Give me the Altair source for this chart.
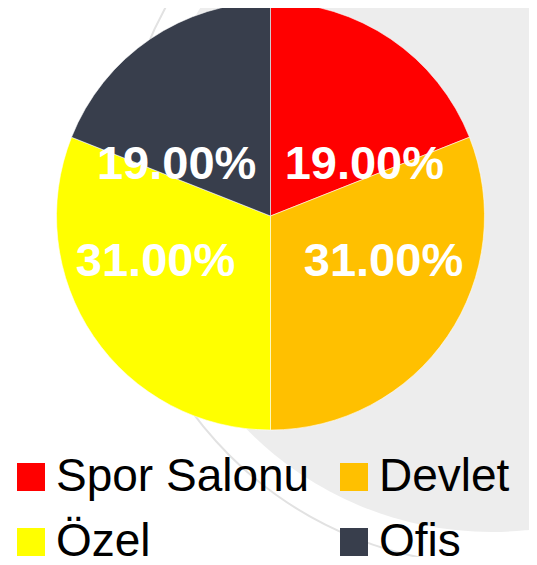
import math
import altair as alt
import pandas as pd

# ---- data ----
categories = ["Spor Salonu", "Devlet", "Özel", "Ofis"]
values = [19, 31, 31, 19]
colors = ["#FF0000", "#FFC000", "#FFFF00", "#383E4C"]

# label offsets (style only) relative to the slice mid-angle position
label_offsets = {
    "Spor Salonu": (32, 40),
    "Devlet": (22, -16),
    "Özel": (-24, -16),
    "Ofis": (-32, 40),
}

df = pd.DataFrame({
    "category": categories,
    "value": values,
    "idx": list(range(len(categories))),
})

FONT = "Liberation Sans"
CX, CY, R = 262.5, 208, 214

one = pd.DataFrame({"a": [0]})

bg_circle = alt.Chart(one).mark_arc(
    theta=0, theta2=2 * math.pi, radius=343, fill="#EDEDED", strokeWidth=0
).encode(x=alt.value(483.5), y=alt.value(181))

bg_ring = alt.Chart(one).mark_arc(
    theta=0, theta2=2 * math.pi, radius=376, fill="transparent",
    stroke="#E2E2E2", strokeWidth=2
).encode(x=alt.value(487), y=alt.value(181))

base = alt.Chart(df)

pie = base.mark_arc(radius=R, stroke="#FFFFFF", strokeWidth=0.8, strokeOpacity=0.7).encode(
    theta=alt.Theta("value:Q", stack=True),
    order=alt.Order("idx:Q"),
    color=alt.Color(
        "category:N",
        scale=alt.Scale(domain=categories, range=colors),
        sort=None,
        legend=alt.Legend(
            title=None,
            orient="none",
            direction="horizontal",
            legendX=0,
            legendY=446,
            columns=2,
            symbolType="square",
            symbolSize=784,
            symbolStrokeWidth=0,
            labelFontSize=46,
            labelFont=FONT,
            labelColor="#000000",
            labelLimit=600,
            labelOffset=2,
            columnPadding=21,
            rowPadding=19,
            padding=0,
        ),
    ),
    x=alt.value(CX),
    y=alt.value(CY),
)

label_layers = []
for cat in categories:
    dx, dy = label_offsets[cat]
    label_layers.append(
        base.transform_calculate(label="format(datum.value, '.2f') + '%'")
        .transform_stack(stack="value", groupby=[], as_=["v0", "v1"], sort=[alt.SortField("idx")])
        .transform_joinaggregate(total="sum(value)")
        .transform_calculate(mid="((datum.v0 + datum.v1) / 2) / datum.total * 2 * PI")
        .transform_filter(alt.datum.category == cat)
        .mark_text(
            radius=110, dx=dx, dy=dy, font=FONT, fontSize=47, fontWeight="bold",
            color="#FFFFFF", align="center", baseline="middle",
        )
        .encode(
            theta=alt.Theta("mid:Q", scale=None),
            text="label:N",
            x=alt.value(CX),
            y=alt.value(CY),
        )
    )

chart = alt.layer(bg_ring, bg_circle, pie, *label_layers).properties(
    width=521,
    height=549,
    autosize=alt.AutoSizeParams(type="none"),
    padding=0,
).configure_view(stroke=None)

chart.save("out.html", embed_options={"renderer": "svg", "actions": False})
